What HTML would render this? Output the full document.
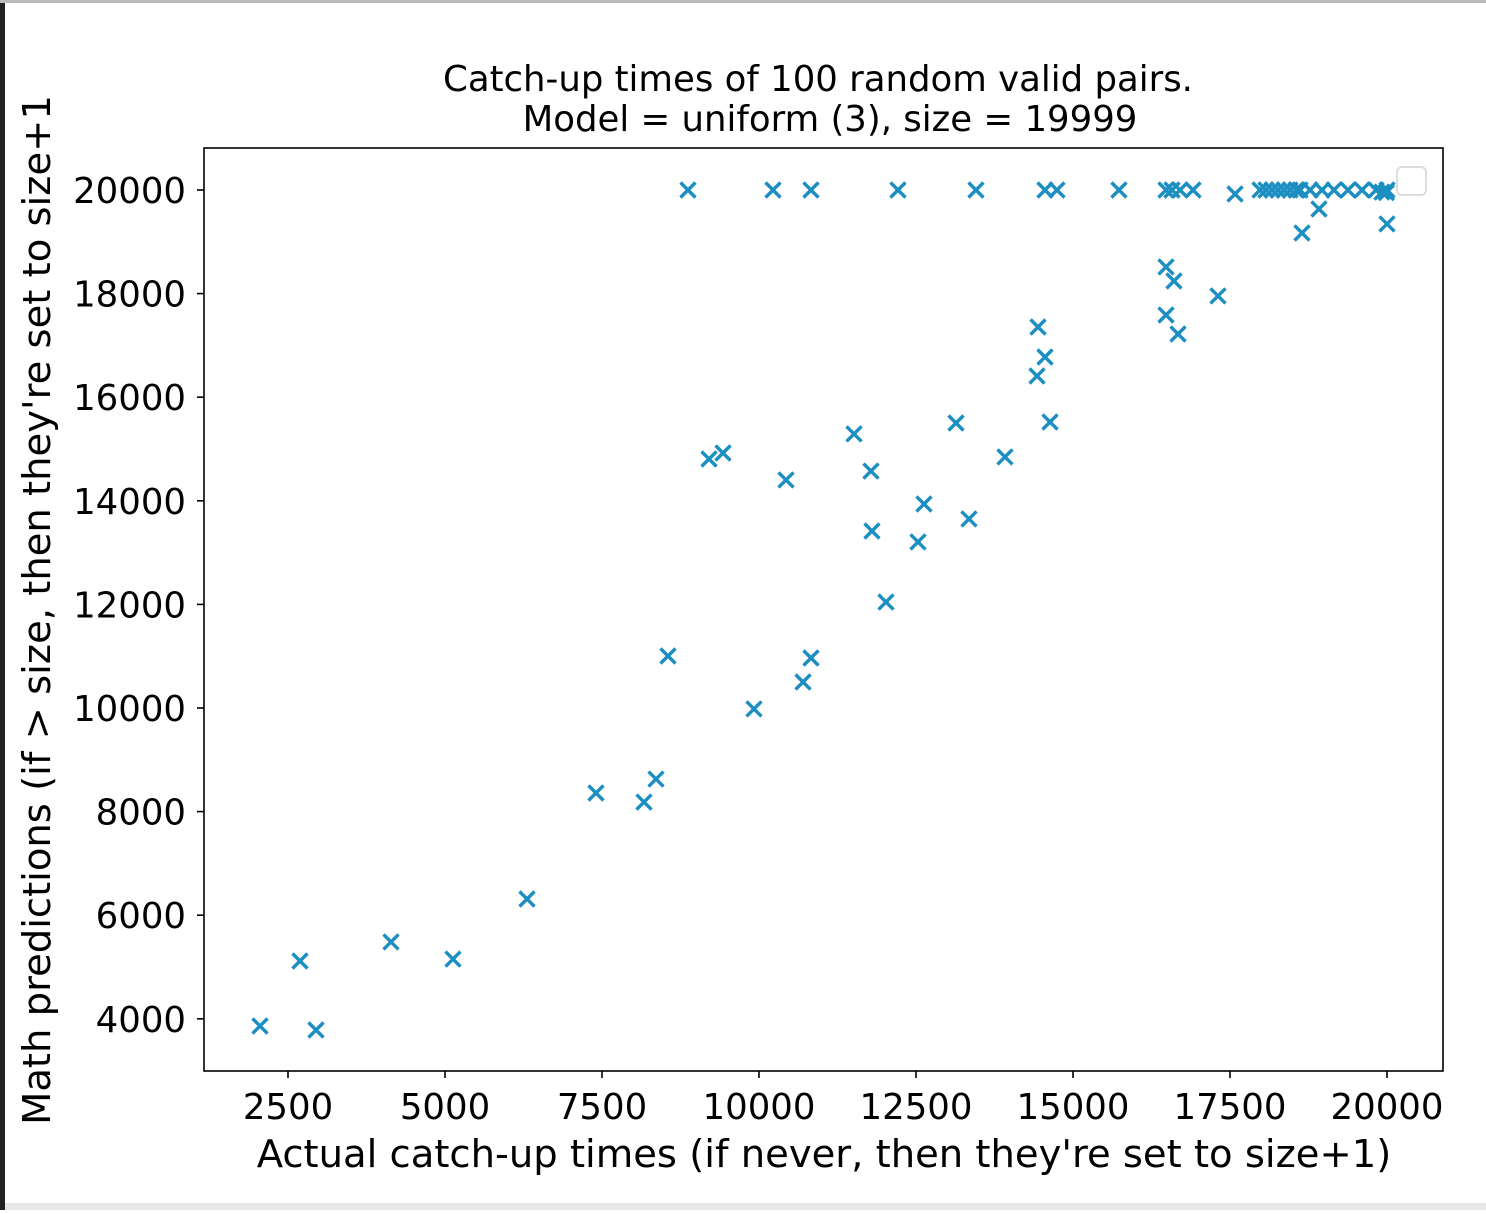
<!DOCTYPE html>
<html><head><meta charset="utf-8"><style>
body{margin:0;background:#fff;width:1486px;height:1210px;overflow:hidden;font-family:"DejaVu Sans","Liberation Sans",sans-serif}
</style></head><body>
<svg id="chart" width="1486" height="1210" xmlns="http://www.w3.org/2000/svg">
<rect x="0" y="0" width="1486" height="1210" fill="#fff"/>
<rect x="0" y="0" width="5" height="1210" fill="#222"/>
<rect x="0" y="0" width="1486" height="3" fill="#bbb"/>
<rect x="5" y="1203" width="1481" height="7" fill="#e8e8e8"/>
<g id="marks"></g>
<rect x="204" y="148" width="1239" height="923" fill="none" stroke="#000" stroke-width="1.6"/>
<g id="axes"></g>
<rect x="1397" y="167" width="29" height="28" rx="5" fill="#fff" stroke="#ddd" stroke-width="2"/>
<text x="818" y="91" font-size="35.5" text-anchor="middle">Catch-up times of 100 random valid pairs.</text>
<text x="830" y="131" font-size="35.5" text-anchor="middle">Model = uniform (3), size = 19999</text>
<text x="824" y="1167" font-size="38.5" text-anchor="middle">Actual catch-up times (if never, then they're set to size+1)</text>
<text transform="translate(50,610) rotate(-90)" font-size="38.5" text-anchor="middle">Math predictions (if &gt; size, then they're set to size+1</text>
</svg>
<script>
const xTicks=[2500,5000,7500,10000,12500,15000,17500,20000];
const yTicks=[4000,6000,8000,10000,12000,14000,16000,18000,20000];
const xVals=[8869,10223,10828,12213,13455,14554,14745,15732,16481,16576,16704,16911,17580,17978,18073,18169,18264,18360,18455,18551,18615,18774,18965,19156,19379,19602,19825,19920,19990,20000,18647,18917,20000,
2054,2691,2946,4140,5127,6306,7404,8169,8360,8551,9204,9427,9920,10430,10701,10828,11513,11783,11799,12022,12532,12627,13137,13344,13917,14427,14443,14554,14634,16481,16481,16608,16672,17309];
const yVals=[20000,20000,20000,20000,20000,20000,20000,20000,20000,20000,20000,20000,19923,20000,20000,20000,20000,20000,20000,20000,20000,20000,20000,20000,20000,20000,20000,19960,19950,20000,19170,19633,19344,
3861,5116,3784,5483,5154,6313,8359,8185,8629,11004,14807,14923,9981,14402,10502,10965,15290,14575,13417,12046,13205,13938,15502,13649,14846,16409,17355,16776,15521,18514,17587,18243,17220,17954];
const xs=v=>288+(v-2500)*0.0628;
const ys=v=>190+(20000-v)*0.0518;
const NS="http://www.w3.org/2000/svg";
const marks=document.getElementById('marks');
for(let i=0;i<xVals.length;i++){
  const x=xs(xVals[i]),y=ys(yVals[i]);
  const p=document.createElementNS(NS,'path');
  p.setAttribute('d',`M${x-7.5},${y-7.5}L${x+7.5},${y+7.5}M${x-7.5},${y+7.5}L${x+7.5},${y-7.5}`);
  p.setAttribute('stroke','#1b8ec2');p.setAttribute('stroke-width','3.4');
  
  
  marks.appendChild(p);
}
const axes=document.getElementById('axes');
xTicks.forEach(t=>{
  const x=xs(t);
  const l=document.createElementNS(NS,'line');
  l.setAttribute('x1',x);l.setAttribute('x2',x);l.setAttribute('y1',1071);l.setAttribute('y2',1078);l.setAttribute('stroke','#000');l.setAttribute('stroke-width','1.6');
  
  
  axes.appendChild(l);
  const tx=document.createElementNS(NS,'text');
  tx.setAttribute('x',x);tx.setAttribute('y',1119);tx.setAttribute('font-size','35.5');tx.setAttribute('text-anchor','middle');
  tx.textContent=t;
  
  
  axes.appendChild(tx);
});
yTicks.forEach(t=>{
  const y=ys(t);
  const l=document.createElementNS(NS,'line');
  l.setAttribute('x1',197);l.setAttribute('x2',204);l.setAttribute('y1',y);l.setAttribute('y2',y);l.setAttribute('stroke','#000');l.setAttribute('stroke-width','1.6');
  
  
  axes.appendChild(l);
  const tx=document.createElementNS(NS,'text');
  tx.setAttribute('x',186);tx.setAttribute('y',y+13);tx.setAttribute('font-size','35.5');tx.setAttribute('text-anchor','end');
  tx.textContent=t;
  
  
  axes.appendChild(tx);
});
</script>
</body></html>
